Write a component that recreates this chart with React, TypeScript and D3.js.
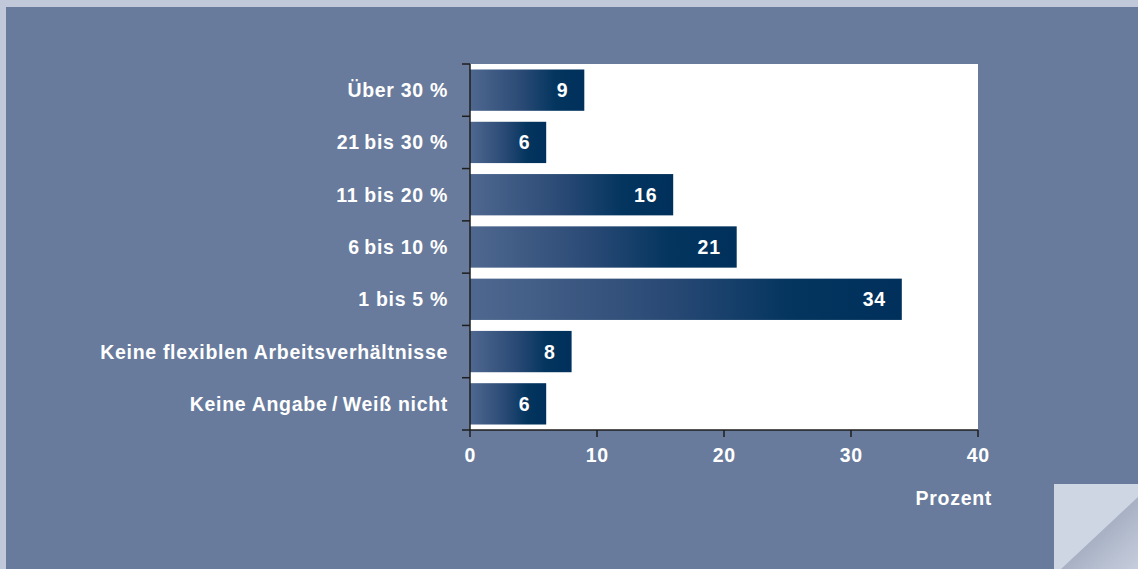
import React from "react";
import * as d3 from "d3";

const categories = [
  "Über 30 %",
  "21\u2009bis 30 %",
  "11 bis 20 %",
  "6\u2009bis 10 %",
  "1 bis 5 %",
  "Keine flexiblen Arbeitsverhältnisse",
  "Keine Angabe\u2009/\u2009Weiß nicht",
];
const values = [9, 6, 16, 21, 34, 8, 6];
const xTicks = [0, 10, 20, 30, 40];
const xLabel = "Prozent";

const W = 1138;
const H = 569;
const plot = { left: 470, right: 978, top: 64, bottom: 430 };
const FONT = "'Liberation Sans', Arial, Helvetica, sans-serif";
const FS = 19.5;
const LS = 0.7;

export default function App() {
  const x = d3.scaleLinear().domain([0, 40]).range([plot.left, plot.right]);
  const y = d3
    .scaleBand<string>()
    .domain(categories)
    .range([plot.top, plot.bottom])
    .paddingInner(0.21)
    .paddingOuter(0.105);
  const boundaries = d3
    .range(categories.length + 1)
    .map((i) => plot.top + (i * (plot.bottom - plot.top)) / categories.length);

  const txt = {
    fill: "#ffffff",
    fontFamily: FONT,
    fontWeight: "bold" as const,
    fontSize: FS,
    letterSpacing: LS,
  };

  return (
    <svg
      width={W}
      height={H}
      style={{ position: "absolute", left: 0, top: 0, display: "block" }}
    >
      <defs>
        <linearGradient id="barGrad" x1="0" x2="1" y1="0" y2="0">
          <stop offset="0" stopColor="#4f6890" />
          <stop offset="0.45" stopColor="#2a4a75" />
          <stop offset="0.75" stopColor="#03355f" />
          <stop offset="1" stopColor="#00305b" />
        </linearGradient>
        <linearGradient id="foldGrad" x1="0" y1="0" x2="1" y2="1">
          <stop offset="0" stopColor="#6b7690" />
          <stop offset="0.5" stopColor="#a8b1c4" />
          <stop offset="1" stopColor="#c6cedd" />
        </linearGradient>
      </defs>
      <rect x={0} y={0} width={W} height={H} fill="#c0c8da" />
      <rect x={6} y={7} width={W - 6} height={H - 7} fill="#687b9c" />
      <rect
        x={plot.left}
        y={plot.top}
        width={plot.right - plot.left}
        height={plot.bottom - plot.top}
        fill="#ffffff"
      />
      {categories.map((c, i) => (
        <g key={c}>
          <rect
            x={x(0)}
            y={y(c)}
            width={x(values[i]) - x(0)}
            height={y.bandwidth()}
            fill="url(#barGrad)"
          />
          <text
            x={x(values[i]) - 16}
            y={(y(c) as number) + y.bandwidth() / 2}
            dy="0.36em"
            textAnchor="end"
            {...txt}
          >
            {values[i]}
          </text>
          <text
            x={448}
            y={(y(c) as number) + y.bandwidth() / 2}
            dy="0.36em"
            textAnchor="end"
            {...txt}
          >
            {c}
          </text>
        </g>
      ))}
      <line x1={plot.left} x2={plot.left} y1={plot.top} y2={plot.bottom} stroke="#1e1e1e" strokeWidth={1.5} />
      {boundaries.map((b, i) => (
        <line key={i} x1={plot.left - 8} x2={plot.left} y1={b} y2={b} stroke="#1e1e1e" strokeWidth={1.5} />
      ))}
      <line x1={plot.left} x2={plot.right} y1={plot.bottom} y2={plot.bottom} stroke="#1e1e1e" strokeWidth={1.5} />
      {xTicks.map((t) => (
        <g key={t}>
          <line x1={x(t)} x2={x(t)} y1={plot.bottom} y2={plot.bottom + 7} stroke="#1e1e1e" strokeWidth={1.5} />
          <text x={x(t) + LS / 2} y={462} textAnchor="middle" {...txt}>
            {t}
          </text>
        </g>
      ))}
      <text x={992} y={505} textAnchor="end" {...txt}>
        {xLabel}
      </text>
      <rect x={1054} y={484} width={W - 1054} height={H - 484} fill="#ced6e4" />
      <polygon points={`1061,569 1138,497 1138,569`} fill="url(#foldGrad)" />
    </svg>
  );
}
